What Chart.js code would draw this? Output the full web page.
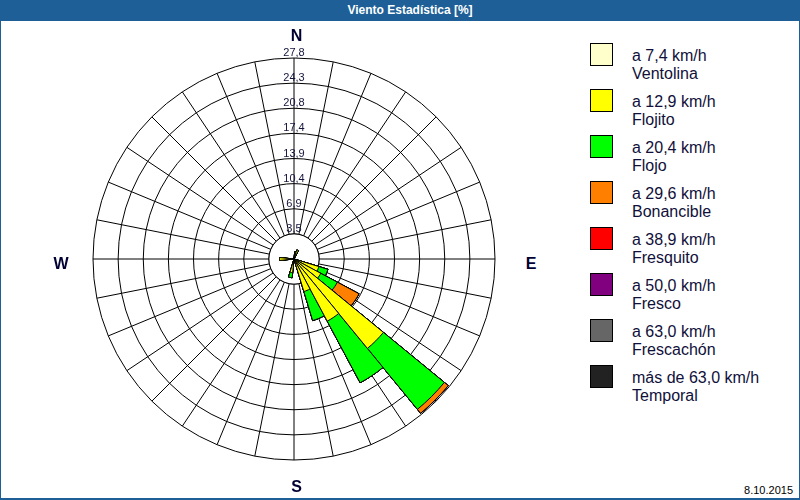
<!DOCTYPE html>
<html>
<head>
<meta charset="utf-8">
<script src="https://cdn.jsdelivr.net/npm/chart.js@4.4.0/dist/chart.umd.min.js"></script>
<style>
html,body{margin:0;padding:0;background:#fff;}
#frame{position:relative;width:800px;height:500px;overflow:hidden;background:#fff;font-family:"Liberation Sans",Arial,sans-serif;}
.abs{position:absolute;}
#band{left:0;top:0;width:800px;height:21px;background:#1e5f97;}
#title{left:410px;top:0;transform:translateX(-50%);color:#fff;font:bold 12px "Liberation Sans",Arial,sans-serif;line-height:21px;white-space:nowrap;}
.bl{background:#1e5f97;}
.dir{font:bold 16px "Liberation Sans",Arial,sans-serif;color:#000033;transform:translate(-50%,-50%);line-height:18px;}
.box{width:21px;height:21px;border:1px solid #000;}
.lt{font:16px "Liberation Sans",Arial,sans-serif;color:#10103a;line-height:18px;white-space:nowrap;}
#date{right:7px;top:483px;font:11px "Liberation Sans",Arial,sans-serif;color:#000;line-height:14px;}
#c{position:absolute;left:66px;top:31px;}
</style>
</head>
<body>
<div id="frame">
  <div id="band" class="abs"></div>
  <div id="title" class="abs">Viento Estadística [%]</div>
  <div class="abs bl" style="left:0;top:21px;width:1px;height:479px;"></div>
  <div class="abs bl" style="left:799px;top:21px;width:1px;height:479px;"></div>
  <div class="abs bl" style="left:0;top:498px;width:800px;height:2px;"></div>
  <canvas id="c" width="457" height="457"></canvas>
  <div id="dirs"></div>
  <div id="legend"></div>
  <div id="date" class="abs">8.10.2015</div>
</div>
<script>
// 32 wind directions (11.25° each), clockwise from North
const directions = ['N','NxE','NNE','NExN','NE','NExE','ENE','ExN','E','ExS','ESE','SExE','SE','SExS','SSE','SxE',
                    'S','SxW','SSW','SWxS','SW','SWxW','WSW','WxS','W','WxN','WNW','NWxW','NW','NWxN','NNW','NxW'];

// frequency [%] per speed class and direction
const ventolina  = [0,0,0,0,0,0,0,0,0,0,0,0,0,0,0,0, 0,0,0,0,0,0,0,0,0,0,0,0,0,0,0,0];
const flojito    = [0,1.0,1.3,0,0,0,0,0,0,0,3.6,4.2,16.0,9.75,4.7,0, 0,1.9,0,0,0,0,0,0,2.0,0,0,0,0,0,0,0];
const flojo      = [0,0,0,0,0,0,0,0,0,0,1.3,2.6,10.9,9.65,4.2,0, 0,0.7,0,0,0,0,0,0,0,0,0,0,0,0,0,0];
const bonancible = [0,0,0,0,0,0,0,0,0,0,0,3.4,0.7,0,0,0, 0,0,0,0,0,0,0,0,0,0,0,0,0,0,0,0];
const fresquito  = [0,0,0,0,0,0,0,0,0,0,0,0,0,0,0,0, 0,0,0,0,0,0,0,0,0,0,0,0,0,0,0,0];
const fresco     = [0,0,0,0,0,0,0,0,0,0,0,0,0,0,0,0, 0,0,0,0,0,0,0,0,0,0,0,0,0,0,0,0];
const frescachon = [0,0,0,0,0,0,0,0,0,0,0,0,0,0,0,0, 0,0,0,0,0,0,0,0,0,0,0,0,0,0,0,0];
const temporal   = [0,0,0,0,0,0,0,0,0,0,0,0,0,0,0,0, 0,0,0,0,0,0,0,0,0,0,0,0,0,0,0,0];

const classRanges = ['a 7,4 km/h','a 12,9 km/h','a 20,4 km/h','a 29,6 km/h','a 38,9 km/h','a 50,0 km/h','a 63,0 km/h','más de 63,0 km/h'];
const classNames  = ['Ventolina','Flojito','Flojo','Bonancible','Fresquito','Fresco','Frescachón','Temporal'];
const classColors = ['#FFFFCC','#FFFF00','#00FF00','#FF8000','#FF0000','#800080','#666666','#222222'];

const rMax = 27.8;
const tickLabels = ['3,5','6,9','10,4','13,9','17,4','20,8','24,3','27,8'];
const tickValues = tickLabels.map((_, k) => (k + 1) * rMax / tickLabels.length);

const compass = [['N',296.5,36],['E',531,264],['S',296.5,487],['W',61,264]];

// ---- build cumulative (stacked) series ----
const series = [ventolina, flojito, flojo, bonancible, fresquito, fresco, frescachon, temporal];
const cumulative = [];
series.forEach((s, k) => {
  cumulative.push(s.map((v, i) => (k ? cumulative[k-1][i] : 0) + v));
});

const datasets = cumulative.map((d, k) => ({
  label: classNames[k],
  data: d,
  rAxisID: 'r',
  backgroundColor: classColors[k],
  borderColor: '#000',
  borderWidth: (ctx) => (ctx.raw > 0 ? 1 : 0)
}));

const tickCommon = {display:true, font:{size:11, family:'"Liberation Sans", Arial, sans-serif'}, backdropPadding:2, showLabelBackdrop:false};

const holePlugin = {
  id: 'hole',
  beforeDatasetsDraw(chart) {
    const s = chart.scales.g;
    const rr = s.getDistanceFromCenterForValue(tickValues[0]);
    const c = chart.ctx;
    c.save();
    c.beginPath();
    c.arc(s.xCenter, s.yCenter, rr, 0, 2 * Math.PI);
    c.fillStyle = '#fff';
    c.fill();
    c.lineWidth = 1;
    c.strokeStyle = '#000';
    c.stroke();
    c.restore();
  }
};

new Chart(document.getElementById('c'), {
  type: 'polarArea',
  data: { labels: directions, datasets: datasets },
  options: {
    responsive: false,
    maintainAspectRatio: false,
    devicePixelRatio: 1,
    animation: false,
    events: [],
    layout: { padding: 20 },
    plugins: { legend: {display:false}, tooltip: {enabled:false}, title:{display:false} },
    scales: {
      r: {
        type:'radialLinear', axis:'r', min:0, max:rMax, startAngle:-360/directions.length/2,
        pointLabels:{display:false},
        ticks: Object.assign({}, tickCommon, {color:'rgba(0,0,0,0)'}),
        grid:{display:false}, angleLines:{display:false}
      },
      g: {
        type:'radialLinear', axis:'r', min:0, max:rMax, startAngle:0,
        pointLabels:{display:false},
        ticks: Object.assign({}, tickCommon, {color:'rgba(0,0,0,0)'}),
        afterBuildTicks: (s) => { s.ticks = [0].concat(tickValues).map(v => ({value:v})); },
        grid:{display:true, circular:true, color:'#000', lineWidth:1},
        angleLines:{display:true, color:'#000', lineWidth:1}
      },
      t: {
        type:'radialLinear', axis:'r', beginAtZero:false, min:-0.69, max:rMax-0.69, startAngle:0,
        pointLabels:{display:false},
        ticks: Object.assign({}, tickCommon, {color:'#14143c', z:1, callback:(v, i) => tickLabels[i]}),
        afterBuildTicks: (s) => { s.ticks = tickValues.map(v => ({value:v})); },
        grid:{display:false}, angleLines:{display:false}
      }
    }
  },
  plugins: [holePlugin]
});

// compass letters
const dirs = document.getElementById('dirs');
compass.forEach(([t,x,y]) => {
  const d = document.createElement('div');
  d.className = 'abs dir'; d.textContent = t;
  d.style.left = x + 'px'; d.style.top = y + 'px';
  dirs.appendChild(d);
});

// legend
const lg = document.getElementById('legend');
classNames.forEach((name, k) => {
  const b = document.createElement('div');
  b.className = 'abs box';
  b.style.left = '590px'; b.style.top = (43 + 46*k) + 'px';
  b.style.background = classColors[k];
  lg.appendChild(b);
  const t = document.createElement('div');
  t.className = 'abs lt';
  t.style.left = '632px'; t.style.top = (47 + 46*k) + 'px';
  t.appendChild(document.createTextNode(classRanges[k]));
  t.appendChild(document.createElement('br'));
  t.appendChild(document.createTextNode(name));
  lg.appendChild(t);
});
</script>
</body>
</html>
